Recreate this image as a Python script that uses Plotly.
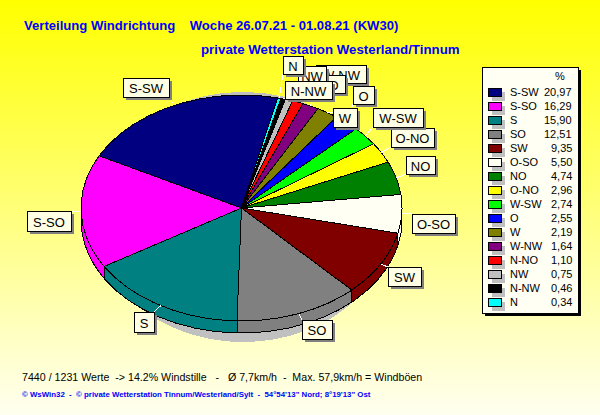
import numpy as np
import plotly.graph_objects as go

names = ["S-SW", "S-SO", "S", "SO", "SW", "O-SO", "NO", "O-NO", "W-SW", "O", "W", "W-NW", "N-NO", "NW", "N-NW", "N"]
values = [20.97, 16.29, 15.90, 12.51, 9.35, 5.50, 4.74, 2.96, 2.74, 2.55, 2.19, 1.64, 1.10, 0.75, 0.46, 0.34]
colors = ["#000080", "#FF00FF", "#008080", "#808080", "#800000", "#FFFFF4", "#008000", "#FFFF00",
          "#00FF00", "#0000FF", "#808000", "#800080", "#FF0000", "#C0C0C0", "#000000", "#00FFFF"]

# label boxes in pixels: x0, y0, x1, y1
boxes = [(123, 78, 169, 97), (27, 211, 71, 231), (134, 312, 154, 332), (302, 320, 332, 339),
         (388, 267, 421, 286), (412, 214, 455, 233), (406, 156, 435, 174), (391, 128, 434, 147),
         (373, 108, 423, 127), (353, 86, 374, 104), (333, 108, 357, 127), (316, 65, 366, 83),
         (299, 75, 345, 93), (298, 66, 326, 85), (285, 81, 332, 99), (283, 56, 303, 74)]

cx, cy, rx, ry = 241.5, 208, 160.5, 113
depth = 12
start = 77.0


def arc(a0, a1, drop=0):
    t = np.radians(np.linspace(a0, a1, max(int(abs(a1 - a0) * 2), 2)))
    return cx + rx * np.cos(t), cy - ry * np.sin(t) + drop


fig = go.Figure()

# background gradient, yellow to almost white
ys = np.arange(0, 416, 3)
fig.add_trace(go.Heatmap(x=[0, 600], y=ys, z=[[v, v] for v in ys], showscale=False, hoverinfo="skip",
                         colorscale=[[0, "#FFFF00"], [1, "#FFFFF0"]]))

# shadow of the pie
t = np.radians(np.arange(0, 361, 2))
fig.add_trace(go.Scatter(x=243 + 150 * np.cos(t), y=217 + 125 * np.sin(t), mode="lines", fill="toself",
                         fillcolor="#C0C0C0", line=dict(width=0), hoverinfo="skip"))

edges = start + np.cumsum([0] + values) * 3.6 * 100 / sum(values)

# side wall of the front half
for i in range(len(values)):
    for a0, a1 in [(edges[i], edges[i + 1]), (edges[i] - 360, edges[i + 1] - 360)]:
        a0 = max(a0, 180)
        a1 = min(a1, 360)
        if a1 <= a0:
            continue
        x1, y1 = arc(a0, a1)
        x2, y2 = arc(a1, a0, depth)
        fig.add_trace(go.Scatter(x=np.r_[x1, x2, x1[0]], y=np.r_[y1, y2, y1[0]], mode="lines", fill="toself",
                                 fillcolor=colors[i], line=dict(color="black", width=1), hoverinfo="skip"))

# top of the pie
for i in range(len(values)):
    x1, y1 = arc(edges[i], edges[i + 1])
    fig.add_trace(go.Scatter(x=np.r_[cx, x1, cx], y=np.r_[cy, y1, cy], mode="lines", fill="toself",
                             fillcolor=colors[i], line=dict(color="black", width=1), hoverinfo="skip"))

# white leader lines
for i in range(len(values)):
    mid = np.radians((edges[i] + edges[i + 1]) / 2)
    ex = cx + rx * np.cos(mid)
    ey = cy - ry * np.sin(mid)
    x0, y0, x1, y1 = boxes[i]
    fig.add_trace(go.Scatter(x=[ex, min(max(ex, x0), x1)], y=[ey, min(max(ey, y0), y1)], mode="lines",
                             line=dict(color="white", width=1), hoverinfo="skip"))

shapes = []
annos = []


def text(x, y, s, size=11, color="black", anchor="left", bold=False):
    annos.append(dict(x=x, y=y, text="<b>%s</b>" % s if bold else s, showarrow=False, xanchor=anchor, yanchor="middle",
                      borderpad=0, font=dict(family="Liberation Sans", size=size, color=color)))


# label boxes, drawn in legend order so the later ones cover the earlier ones
for i, (x0, y0, x1, y1) in enumerate(boxes):
    shapes.append(dict(type="rect", x0=x0 + 3, y0=y0 + 3, x1=x1 + 3, y1=y1 + 3, fillcolor="#808080", line=dict(width=0)))
    shapes.append(dict(type="rect", x0=x0, y0=y0, x1=x1, y1=y1, fillcolor="#FFFFE6", line=dict(color="black", width=1),
                       label=dict(text=names[i], textposition="middle center",
                                  font=dict(family="Liberation Sans", size=13, color="black"))))

# legend
shapes.append(dict(type="rect", x0=485, y0=70, x1=581, y1=316, fillcolor="black", line=dict(width=0)))
shapes.append(dict(type="rect", x0=482, y0=67, x1=578, y1=313, fillcolor="#FFFFF4", line=dict(color="black", width=1)))
text(560, 76, "%", anchor="center")
for i in range(len(values)):
    row = 92 + 14 * i
    shapes.append(dict(type="rect", x0=492, y0=row, x1=505, y1=row + 9, fillcolor="#C0C0C0", line=dict(width=0)))
    shapes.append(dict(type="rect", x0=488, y0=row - 4, x1=501, y1=row + 4, fillcolor=colors[i],
                       line=dict(color="black", width=1)))
    text(509, row, names[i])
    text(573, row, ("%.2f" % values[i]).replace(".", ","), anchor="right")

text(23, 25, "Verteilung Windrichtung    Woche 26.07.21 - 01.08.21 (KW30)", size=13.1, color="#0000FF", bold=True)
text(200, 49, "private Wetterstation Westerland/Tinnum", size=13.3, color="#0000FF", bold=True)
text(21, 377, "7440 / 1231 Werte  -> 14.2% Windstille   -   Ø 7,7km/h  -  Max. 57,9km/h = Windböen", size=10.65)
text(21, 394, "© WsWin32  -  © private Wetterstation Tinnum/Westerland/Sylt  -  54°54'13\" Nord; 8°19'13\" Ost",
     size=7.85, color="#0000FF", bold=True)

fig.update_layout(
    width=600, height=415,
    margin=dict(l=0, r=0, t=0, b=0),
    showlegend=False,
    paper_bgcolor="#FFFFF0",
    xaxis=dict(range=[0, 600], visible=False),
    yaxis=dict(range=[415, 0], visible=False),
    shapes=shapes,
    annotations=annos,
)

# crisp edges give the jagged look of the original
crisp = "document.body.style.margin='0';document.querySelectorAll('svg.main-svg').forEach(function(s){s.setAttribute('shape-rendering','crispEdges');});"
fig.write_html("out.html", post_script=crisp, config=dict(displayModeBar=False))
